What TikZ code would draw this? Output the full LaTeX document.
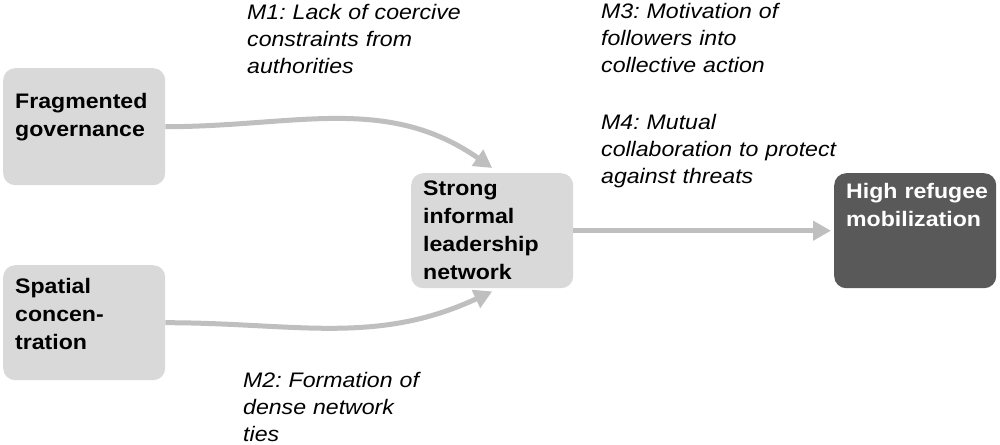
\documentclass[tikz,border=0pt]{standalone}
\usepackage{fontspec}
\setmainfont[FakeStretch=1.1]{Liberation Sans}
\usetikzlibrary{arrows.meta}
\definecolor{boxgray}{HTML}{D9D9D9}
\definecolor{darkbox}{HTML}{595959}
\definecolor{arrowgray}{HTML}{BFBFBF}
\frenchspacing

\begin{document}
\begin{tikzpicture}[x=1pt, y=-1pt,
        factor/.style={fill=boxgray, rounded corners=12pt, anchor=north west,
            inner xsep=12pt, inner ysep=0pt, text width=138pt, align=left,
            font=\fontsize{21}{28}\selectfont\bfseries},
        mech/.style={anchor=base west, inner sep=0pt, text width=260pt, align=left,
            font=\fontsize{21}{27}\selectfont\itshape},
        link/.style={draw=arrowgray, line width=5pt, -{Triangle[length=18pt,width=19pt]}}]
        \useasboundingbox (0,0) rectangle (1000,444);
        % factors and outcome
        \node[factor, text height=40pt, text depth=77pt] (frag) at (3,68) {Fragmented\\governance};
        \node[factor, text height=28pt, text depth=87pt] (spat) at (3,265) {Spatial\\concen-\\tration};
        \node[factor, text height=22pt, text depth=93pt] (lead) at (411,173) {Strong\\informal\\leadership\\network};
        \node[factor, fill=darkbox, text=white, text height=25pt, text depth=90pt] (mob) at (834,173) {High~refugee\\mobilization};
        % mechanisms
        \node[mech] (m1) at (247,20) {M1: Lack of coercive\\constraints from\\authorities};
        \node[mech] (m2) at (243,387) {M2: Formation of\\dense network\\ties};
        \node[mech] (m3) at (601,19) {M3: Motivation of\\followers into\\collective action};
        \node[mech] (m4) at (601,129) {M4: Mutual\\collaboration to protect\\against threats};
        % links
        \coordinate (tipA) at ([yshift=5pt]lead.north);
        \coordinate (tipB) at ([yshift=-3pt]lead.south);
        \draw[link] (frag.east) to[out=0, in=145] (tipA);
        \draw[link] (spat.east) to[out=0, in=-155] (tipB);
        \draw[link, shorten >=3pt] (lead.east) -- (mob.west);
\end{tikzpicture}
\end{document}
